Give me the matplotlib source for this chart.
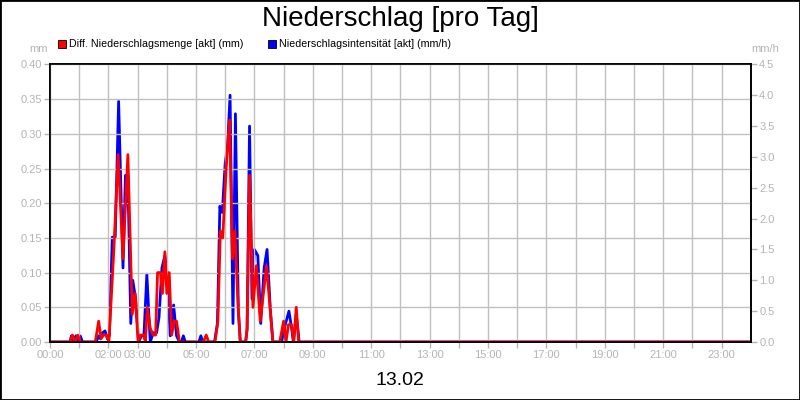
import matplotlib
matplotlib.use('Agg')
import matplotlib.pyplot as plt
from matplotlib.patches import Rectangle

plt.rcParams['font.family'] = ['Liberation Sans', 'DejaVu Sans']

# red series: Diff. Niederschlagsmenge (mm), time in minutes since 00:00
menge_t = [0, 41, 46, 51, 57, 62, 93, 100, 105, 110, 116, 121, 131, 140, 150, 160,
           169, 175, 181, 186, 192, 196, 200, 206, 212, 217, 221, 227, 231, 236, 240,
           245, 250, 255, 260, 266, 315, 321, 326, 339, 345, 350, 355, 362, 369, 375,
           380, 386, 391, 402, 405, 410, 417, 424, 432, 445, 452, 458, 472, 480, 485,
           490, 496, 501, 506, 511, 1440]
menge_v = [0, 0, 0.01, 0, 0.01, 0, 0, 0.03, 0.005, 0.01, 0.01, 0, 0.13, 0.27, 0.12, 0.27,
           0.04, 0.07, 0, 0.01, 0.01, 0, 0.05, 0.02, 0.01, 0.01, 0.10, 0.10, 0.07, 0.13, 0.07,
           0.10, 0.01, 0.03, 0.03, 0, 0, 0.01, 0, 0, 0.03, 0.16, 0.15, 0.25, 0.32, 0.12,
           0.16, 0.06, 0, 0, 0.02, 0.24, 0.05, 0.11, 0.03, 0.11, 0.05, 0, 0, 0.03, 0,
           0.025, 0.025, 0, 0.05, 0, 0]

# blue series: Niederschlagsintensitaet (mm/h)
intens_t = [0, 41, 44, 49, 53, 57, 62, 67, 95, 100, 104, 108, 113, 118, 122, 128, 134,
            141, 150, 155, 160, 166, 170, 176, 182, 188, 193, 199, 206, 212, 219, 224,
            230, 236, 241, 247, 254, 260, 266, 270, 274, 278, 306, 310, 314, 338, 344,
            349, 354, 360, 365, 370, 376, 381, 387, 391, 402, 405, 410, 415, 420, 427,
            433, 440, 446, 453, 458, 476, 484, 491, 497, 500, 506, 512, 1440]
intens_v = [0, 0, 0.1, 0, 0.1, 0, 0.1, 0, 0, 0.1, 0.05, 0.15, 0.18, 0.05, 0.1, 1.7, 1.7,
            3.9, 1.2, 2.7, 2.7, 0.3, 1.0, 0.7, 0, 0.1, 0.1, 1.1, 0, 0.15, 0.15, 0.4,
            1.2, 1.4, 1.1, 0.1, 0.6, 0.1, 0, 0, 0.1, 0, 0, 0.1, 0, 0, 0.3,
            2.2, 2.1, 2.9, 3.2, 4.0, 0.3, 3.7, 0.5, 0, 0, 0.2, 3.5, 0.7, 1.5, 1.4,
            0.3, 1.2, 1.5, 0.5, 0, 0, 0.3, 0.5, 0.2, 0, 0.45, 0, 0]

hour_labels = {0: '00:00', 2: '02:00', 3: '03:00', 5: '05:00', 7: '07:00', 9: '09:00',
               11: '11:00', 13: '13:00', 15: '15:00', 17: '17:00', 19: '19:00',
               21: '21:00', 23: '23:00'}

grey = '#b4b4b4'
fig = plt.figure(figsize=(8, 4), dpi=100)
fig.patch.set_facecolor('white')
fig.patches.append(Rectangle((0, 0), 1, 1, transform=fig.transFigure, fill=False,
                             edgecolor='black', linewidth=2))

ax = fig.add_axes([0.0625, 0.145, 0.876, 0.694])
ax2 = ax.twinx()
ax.set_zorder(ax2.get_zorder() + 1)
ax.patch.set_visible(False)

ax2.plot([t / 60 for t in intens_t], intens_v, color='#0000ff', lw=2.0)
ax.plot([t / 60 for t in menge_t], menge_v, color='#ff0000', lw=2.0)

ax.set_xlim(0, 24)
ax.set_ylim(0, 0.40)
ax2.set_ylim(0, 4.5)
ax.set_xticks(range(24))
ax.set_xticklabels([hour_labels.get(h, '') for h in range(24)])
ax.set_yticks([i * 0.05 for i in range(9)])
ax.set_yticklabels(['%.2f' % (i * 0.05) for i in range(9)])
ax2.set_yticks([i * 0.5 for i in range(10)])
ax2.set_yticklabels(['%.1f' % (i * 0.5) for i in range(10)])

ax2.grid(False)
ax.grid(True, color='#c0c0c0', lw=1.0)
ax.set_axisbelow(True)
for a in (ax, ax2):
    a.tick_params(colors=grey, labelsize=8, length=4, width=1, pad=2)
    for s in a.spines.values():
        s.set_color('black')
        s.set_linewidth(1.2)

fig.text(0.5, 0.953, 'Niederschlag [pro Tag]', ha='center', va='center', fontsize=20)
fig.text(0.048, 0.877, 'mm', ha='center', va='center', fontsize=8, color=grey)
fig.text(0.957, 0.877, 'mm/h', ha='center', va='center', fontsize=8, color=grey)
fig.text(0.5, 0.048, '13.02', ha='center', va='center', fontsize=14)

# legend
for x0, col, lab in [(58, '#ff0000', 'Diff. Niederschlagsmenge [akt] (mm)'),
                     (268, '#0000ff', 'Niederschlagsintensität [akt] (mm/h)')]:
    fig.patches.append(Rectangle((x0 / 800, 1 - 48 / 400), 8 / 800, 8 / 400,
                                 transform=fig.transFigure, facecolor=col,
                                 edgecolor='black', linewidth=0.6))
    fig.text((x0 + 11) / 800, 1 - 44 / 400, lab, ha='left', va='center', fontsize=7.7)

fig.savefig('out.png', dpi=100)
